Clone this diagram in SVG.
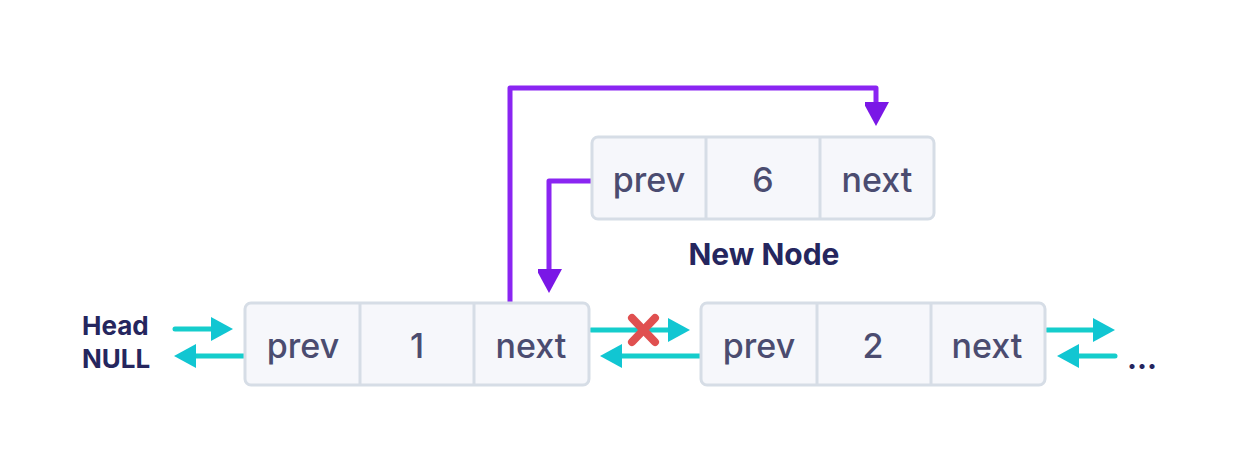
<svg xmlns="http://www.w3.org/2000/svg" width="1236" height="468" viewBox="0 0 1236 468">
<defs>
<style>
.box{fill:#f6f7fb;stroke:#d6dde6;stroke-width:3}
.div{stroke:#d6dde6;stroke-width:3}
.t{font-family:Inter,"Noto Sans",sans-serif;font-size:34px;font-weight:500;fill:#4b4c70;text-anchor:middle}
.lbl{font-family:Inter,"Noto Sans",sans-serif;font-weight:bold;fill:#25265e}
.cy{stroke:#15cdcc;stroke-width:5;stroke-linecap:round;fill:none}
.pu{stroke:#8a25f2;stroke-width:5;fill:none;stroke-linejoin:round}
</style>
<marker id="ca" markerWidth="22" markerHeight="24" refX="2" refY="12" orient="auto" markerUnits="userSpaceOnUse"><path d="M0,0 L22,12 L0,24 Z" fill="#11c6d2"/></marker>
<marker id="pa" markerWidth="26" markerHeight="24" refX="2" refY="13" orient="auto" markerUnits="userSpaceOnUse"><path d="M0,0 L24,13 L0,26 Z" fill="#7a17e6"/></marker>
</defs>
<g id="connectors">
<path class="pu" d="M510,302 V88 H876 V104" marker-end="url(#pa)"/>
<path class="pu" d="M591,181 H549 V271" marker-end="url(#pa)"/>
<line class="cy" x1="175" y1="329" x2="213" y2="329" marker-end="url(#ca)"/>
<line class="cy" x1="245" y1="356" x2="194" y2="356" marker-end="url(#ca)"/>
<line class="cy" x1="591" y1="330" x2="670" y2="330" marker-end="url(#ca)"/>
<line class="cy" x1="700" y1="356" x2="620" y2="356" marker-end="url(#ca)"/>
<line class="cy" x1="1047" y1="330" x2="1095" y2="330" marker-end="url(#ca)"/>
<line class="cy" x1="1115" y1="356" x2="1077" y2="356" marker-end="url(#ca)"/>
<g id="cross" stroke="#e05050" stroke-width="8" stroke-linecap="round">
<line x1="632" y1="318" x2="655" y2="342"/>
<line x1="655" y1="318" x2="632" y2="342"/>
</g>
</g>
<g id="new-node">
<rect class="box" x="592" y="137" width="342" height="82" rx="6"/>
<line class="div" x1="706" y1="138" x2="706" y2="218"/>
<line class="div" x1="820" y1="138" x2="820" y2="218"/>
<text class="t" x="649" y="192">prev</text>
<text class="t" x="763" y="192">6</text>
<text class="t" x="877" y="192">next</text>
<text class="lbl" x="764" y="265" font-size="30" text-anchor="middle">New Node</text>
</g>
<g id="node1">
<rect class="box" x="245" y="303" width="344" height="82" rx="6"/>
<line class="div" x1="360" y1="304" x2="360" y2="384"/>
<line class="div" x1="474" y1="304" x2="474" y2="384"/>
<text class="t" x="303" y="358">prev</text>
<text class="t" x="417" y="358">1</text>
<text class="t" x="531" y="358">next</text>
</g>
<g id="node2">
<rect class="box" x="701" y="303" width="344" height="82" rx="6"/>
<line class="div" x1="817" y1="304" x2="817" y2="384"/>
<line class="div" x1="931" y1="304" x2="931" y2="384"/>
<text class="t" x="759" y="358">prev</text>
<text class="t" x="873" y="358">2</text>
<text class="t" x="987" y="358">next</text>
</g>
<g id="head">
<text class="lbl" x="82" y="335" font-size="26" font-weight="500">Head</text>
<text class="lbl" x="82" y="368" font-size="26" font-weight="500">NULL</text>
</g>
<g id="ellipsis">
<text class="lbl" x="1127" y="369" font-size="30" font-weight="900">...</text>
</g>
</svg>
